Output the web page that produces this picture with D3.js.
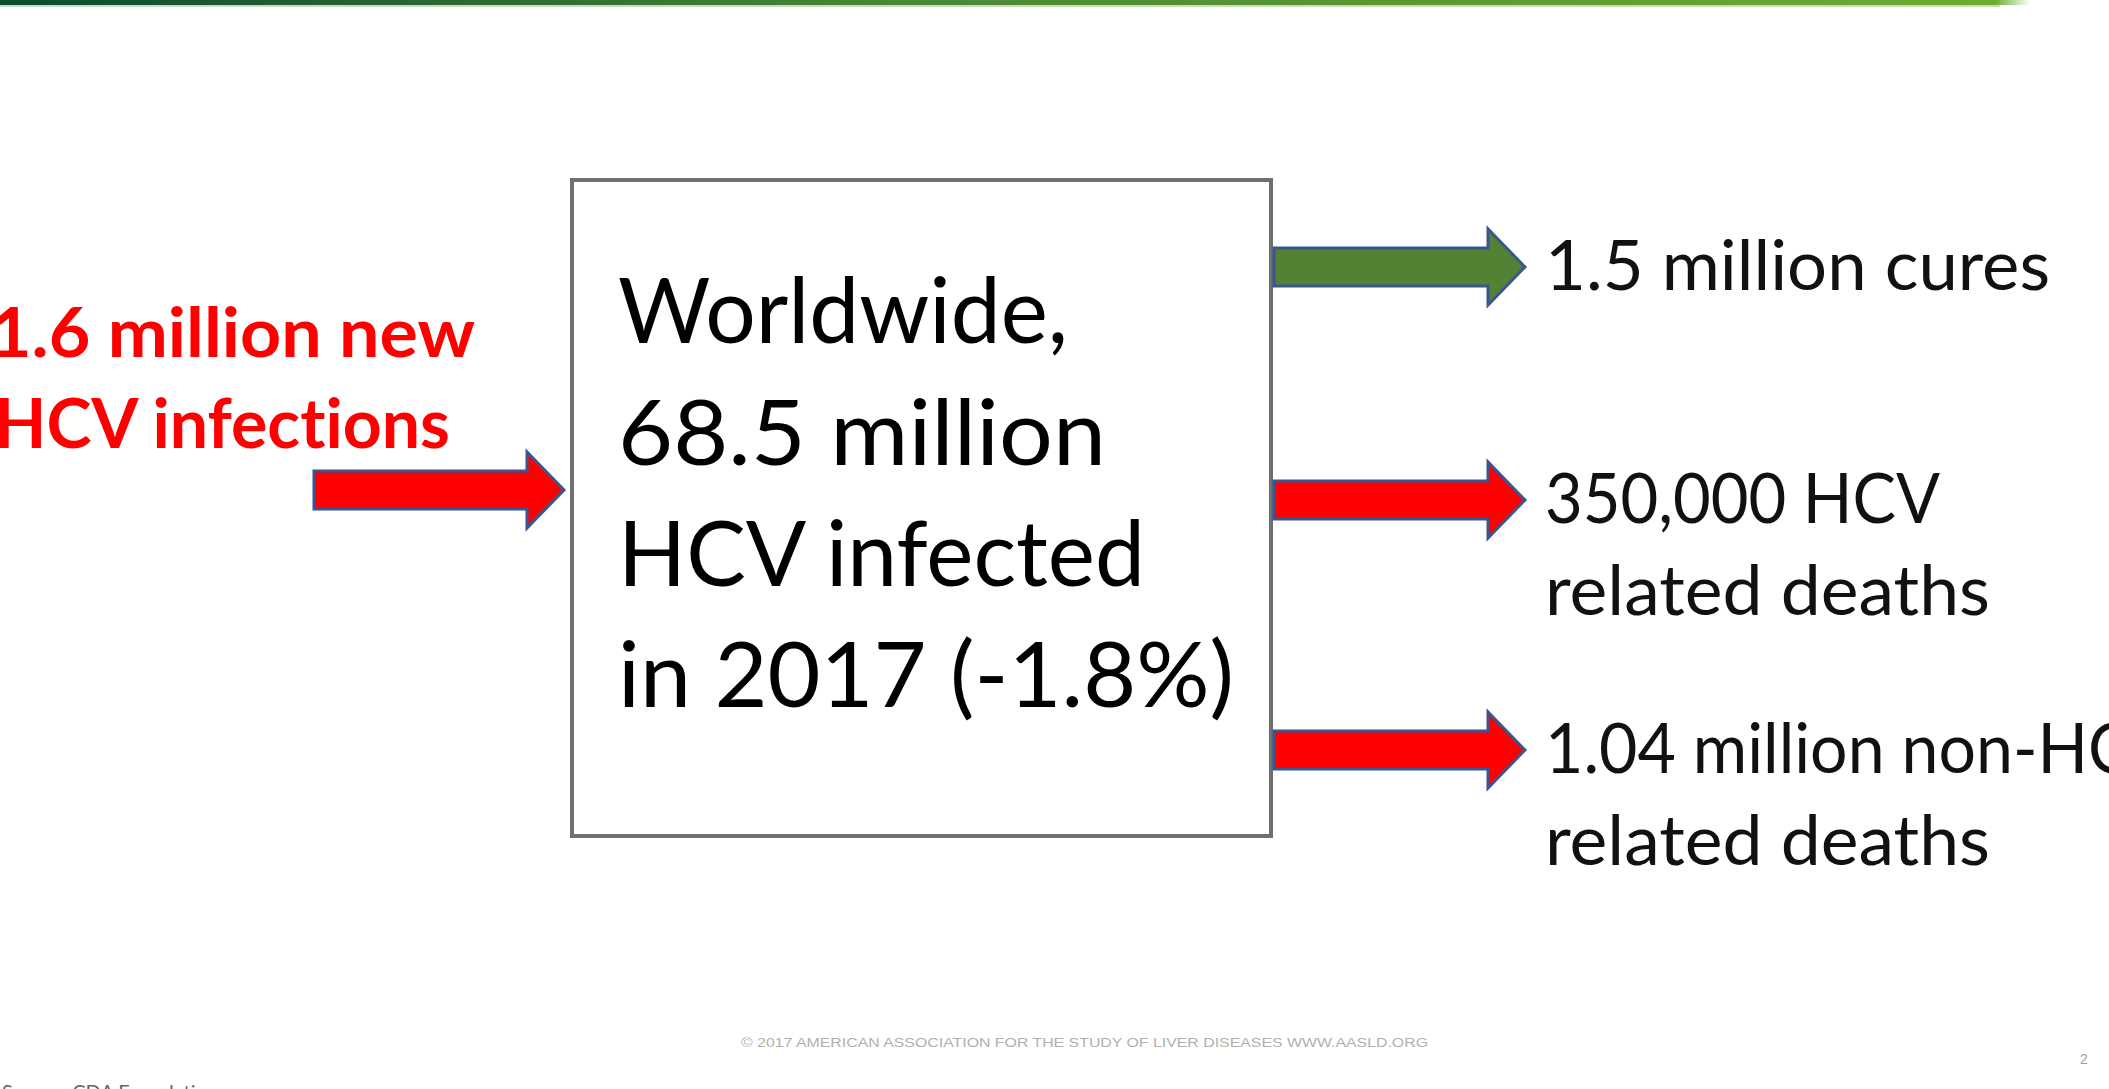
<!DOCTYPE html>
<html>
<head>
<meta charset="utf-8">
<script src="https://cdn.jsdelivr.net/npm/d3@7"></script>
<style>
  html, body { margin: 0; padding: 0; background: #fff; overflow: hidden; }
  svg { display: block; }
  text { font-variant-ligatures: none; font-feature-settings: "liga" 0, "clig" 0; }
</style>
</head>
<body>
<div id="slide"></div>
<script>
// slide content
var boxLines = ["Worldwide,", "68.5 million", "HCV infected", "in 2017 (-1.8%)"];
var inflowLines = ["1.6 million new", "HCV infections"];
var outcomeLabels = [
    ["1.5 million cures"],
    ["350,000 HCV", "related deaths"],
    ["1.04 million non-HCV", "related deaths"]
];
var outcomeColors = ["#548235", "#ff0000", "#ff0000"];
var inflowColor = "#ff0000";
var footerText = "\u00a9 2017 AMERICAN ASSOCIATION FOR THE STUDY OF LIVER DISEASES WWW.AASLD.ORG";
var pageNumber = "2";
var sourceText = "Source: CDA Foundation";

// layout
var w = 2109;
var h = 1089;

var box = {x0: 572, y0: 180, x1: 1271, y1: 836};
var boxText = {x: 618, baselines: [343, 465, 586, 707], lengths: [450, 488, 527, 616]};

var shaftHalf = 19, headHalf = 38, headLen = 37;

var inflowArrow = {x0: 314, x1: 564, cy: 490};
var inflowText = {xs: [-10, -6], baselines: [357, 448], lengths: [485, 456]};

var outArrowX = [1274, 1525];
var outRowY = [267, 500, 750];
var outText = {
    x: 1545,
    baselines: [[290], [523, 615], [773, 865]],
    lengths: [[505], [395, 445], [632, 445]]
};

var svg = d3.select("#slide")
            .append("svg")
            .attr("width", w)
            .attr("height", h);

// header gradient bar
var defs = svg.append("defs");
var grad = defs.append("linearGradient")
               .attr("id", "hdr")
               .attr("x1", "0%").attr("x2", "100%");
grad.append("stop").attr("offset", "0%").attr("stop-color", "#0a4a30");
grad.append("stop").attr("offset", "45%").attr("stop-color", "#4a8734");
grad.append("stop").attr("offset", "100%").attr("stop-color", "#6cad2f");

var fade = defs.append("linearGradient")
               .attr("id", "hdrfade")
               .attr("x1", "0%").attr("x2", "100%");
fade.append("stop").attr("offset", "0%").attr("stop-color", "#6cad2f").attr("stop-opacity", 1);
fade.append("stop").attr("offset", "100%").attr("stop-color", "#6cad2f").attr("stop-opacity", 0);

svg.append("rect")
   .attr("x", 0).attr("y", 0)
   .attr("width", 1995).attr("height", 5)
   .attr("fill", "url(#hdr)");
svg.append("rect")
   .attr("x", 1995).attr("y", 0)
   .attr("width", 35).attr("height", 5)
   .attr("fill", "url(#hdrfade)");
svg.append("rect")
   .attr("x", 0).attr("y", 5)
   .attr("width", 2000).attr("height", 2)
   .attr("fill", "#c9dcc0");

// arrow shape
var arrowPath = function(x0, x1, cy) {
    var p = d3.path();
    var hb = x1 - headLen;
    p.moveTo(x0, cy - shaftHalf);
    p.lineTo(hb, cy - shaftHalf);
    p.lineTo(hb, cy - headHalf);
    p.lineTo(x1, cy);
    p.lineTo(hb, cy + headHalf);
    p.lineTo(hb, cy + shaftHalf);
    p.lineTo(x0, cy + shaftHalf);
    p.closePath();
    return p.toString();
};

// central box
svg.append("rect")
   .attr("x", box.x0).attr("y", box.y0)
   .attr("width", box.x1 - box.x0)
   .attr("height", box.y1 - box.y0)
   .attr("fill", "#fff")
   .attr("stroke", "#6f6f6f")
   .attr("stroke-width", 4);

svg.append("g")
   .selectAll("text")
   .data(boxLines)
   .enter()
   .append("text")
   .attr("x", boxText.x)
   .attr("y", function(d, i) { return boxText.baselines[i]; })
   .attr("textLength", function(d, i) { return boxText.lengths[i]; })
   .attr("lengthAdjust", "spacingAndGlyphs")
   .style("font-family", "Lato, 'Open Sans', sans-serif")
   .style("font-size", "92px")
   .style("fill", "#000")
   .text(function(d) { return d; });

// inflow
svg.append("path")
   .attr("d", arrowPath(inflowArrow.x0, inflowArrow.x1, inflowArrow.cy))
   .attr("fill", inflowColor)
   .attr("stroke", "#3b5590")
   .attr("stroke-width", 3)
   .attr("stroke-linejoin", "miter");

svg.append("g")
   .selectAll("text")
   .data(inflowLines)
   .enter()
   .append("text")
   .attr("x", function(d, i) { return inflowText.xs[i]; })
   .attr("y", function(d, i) { return inflowText.baselines[i]; })
   .attr("textLength", function(d, i) { return inflowText.lengths[i]; })
   .attr("lengthAdjust", "spacingAndGlyphs")
   .style("font-family", "Lato, 'Open Sans', sans-serif")
   .style("font-weight", "bold")
   .style("font-size", "68px")
   .style("fill", inflowColor)
   .text(function(d) { return d; });

// outcomes
var outs = svg.selectAll("g.out")
              .data(outcomeLabels)
              .enter()
              .append("g")
              .attr("class", "out");

outs.append("path")
    .attr("d", function(d, i) { return arrowPath(outArrowX[0], outArrowX[1], outRowY[i]); })
    .attr("fill", function(d, i) { return outcomeColors[i]; })
    .attr("stroke", "#3b5590")
    .attr("stroke-width", 3);

outs.each(function(lines, i) {
    d3.select(this).selectAll("text")
      .data(lines)
      .enter()
      .append("text")
      .attr("x", outText.x)
      .attr("y", function(d, j) { return outText.baselines[i][j]; })
      .attr("textLength", function(d, j) { return outText.lengths[i][j]; })
      .attr("lengthAdjust", "spacingAndGlyphs")
      .style("font-family", "Lato, 'Open Sans', sans-serif")
      .style("font-size", "70px")
      .style("fill", "#111")
      .text(function(d) { return d; });
});

// footer
svg.append("text")
   .attr("x", 741)
   .attr("y", 1047)
   .attr("textLength", 687)
   .attr("lengthAdjust", "spacingAndGlyphs")
   .style("font-family", "'Liberation Sans', Arial, sans-serif")
   .style("font-size", "12px")
   .style("fill", "#b0b0b0")
   .text(footerText);

svg.append("text")
   .attr("x", 2080)
   .attr("y", 1064)
   .style("font-family", "'Liberation Sans', Arial, sans-serif")
   .style("font-size", "14px")
   .style("fill", "#a0a0a0")
   .text(pageNumber);

svg.append("text")
   .attr("x", 2)
   .attr("y", 1099)
   .style("font-family", "Lato, sans-serif")
   .style("font-size", "20px")
   .style("fill", "#666")
   .text(sourceText);
</script>
</body>
</html>
